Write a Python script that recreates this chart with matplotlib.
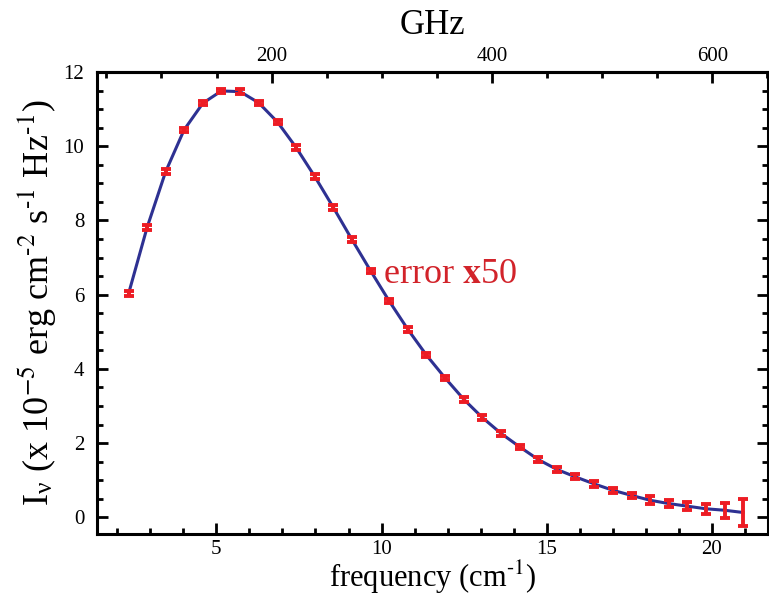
import matplotlib as mpl
import matplotlib.pyplot as plt
from matplotlib.ticker import FixedLocator, MultipleLocator

mpl.rcParams.update(
    {
        "font.family": "Liberation Serif",
        "mathtext.fontset": "stix",
        "axes.linewidth": 2.2,
    }
)

# spectrum (x 10^-5 erg cm^-2 s^-1 Hz^-1), errors already x50
freq = [2.34, 2.90, 3.46, 4.02, 4.59, 5.15, 5.72, 6.28, 6.85, 7.41,
        7.98, 8.54, 9.10, 9.67, 10.23, 10.80, 11.36, 11.92, 12.49, 13.05,
        13.62, 14.18, 14.74, 15.31, 15.87, 16.44, 17.00, 17.57, 18.13, 18.70,
        19.26, 19.82, 20.39, 20.95]
intensity = [6.03, 7.81, 9.31, 10.44, 11.16, 11.49, 11.47, 11.17, 10.65, 9.97,
             9.18, 8.35, 7.49, 6.64, 5.83, 5.06, 4.37, 3.76, 3.18, 2.69,
             2.26, 1.90, 1.56, 1.29, 1.09, 0.90, 0.73, 0.59, 0.46, 0.37,
             0.30, 0.23, 0.19, 0.13]
error = [0.06, 0.06, 0.07, 0.06, 0.06, 0.06, 0.06, 0.06, 0.06, 0.06,
         0.06, 0.06, 0.06, 0.06, 0.06, 0.06, 0.06, 0.06, 0.06, 0.06,
         0.06, 0.06, 0.06, 0.06, 0.07, 0.07, 0.07, 0.07, 0.11, 0.10,
         0.10, 0.13, 0.20, 0.37]
ghz_ticks = [200, 400, 600]

NAVY = "#2E3192"
RED = "#ED1C24"
TEXT_RED = "#D2232A"
CM_TO_GHZ = 29.9792458

fig = plt.figure(figsize=(7.69, 5.99), dpi=100)
ax = fig.add_axes([0.126, 0.1085, 0.873, 0.7713])

ax.plot(freq, intensity, color=NAVY, lw=2.2, zorder=2)
ax.errorbar(freq, intensity, yerr=error, fmt="none", ecolor=RED,
            elinewidth=2.8, capsize=3.5, capthick=2.8, zorder=3)

ax.set_xlim(1.38, 21.71)
ax.set_ylim(-0.45, 12)
ax.xaxis.set_major_locator(MultipleLocator(5))
ax.xaxis.set_minor_locator(MultipleLocator(1))
ax.yaxis.set_major_locator(MultipleLocator(2))
ax.yaxis.set_minor_locator(MultipleLocator(0.5))
ax.tick_params(which="both", direction="in", top=False, right=True, width=2.0,
               labelsize=15)
ax.tick_params(which="major", length=8)
ax.tick_params(which="minor", length=4.5)
ax.tick_params(axis="x", pad=4)
ax.tick_params(axis="y", pad=9)

ax.set_xlabel(r"frequency (cm$^{\text{-1}}$)", fontsize=22, labelpad=0)
ax.set_ylabel(r"I$_{\mathregular{ν}}$ (x 10$^{-5}$ erg cm$^{\text{-2}}$ s$^{\text{-1}}$ Hz$^{\text{-1}}$)",
              fontsize=26, labelpad=4)

secax = ax.secondary_xaxis("top", functions=(lambda x: x * CM_TO_GHZ,
                                              lambda g: g / CM_TO_GHZ))
secax.xaxis.set_major_locator(FixedLocator(ghz_ticks))
secax.xaxis.set_minor_locator(MultipleLocator(50))
secax.tick_params(which="both", direction="in", width=2.0, labelsize=15, pad=4)
secax.tick_params(which="major", length=8)
secax.tick_params(which="minor", length=4.5)
secax.set_xlabel("GHz", fontsize=25, labelpad=10)

ax.text(10.05, 6.31, r"error $\mathbf{x}$50", color=TEXT_RED, fontsize=26,
        ha="left", va="baseline")

fig.savefig("out.png", dpi=100, facecolor="white")
